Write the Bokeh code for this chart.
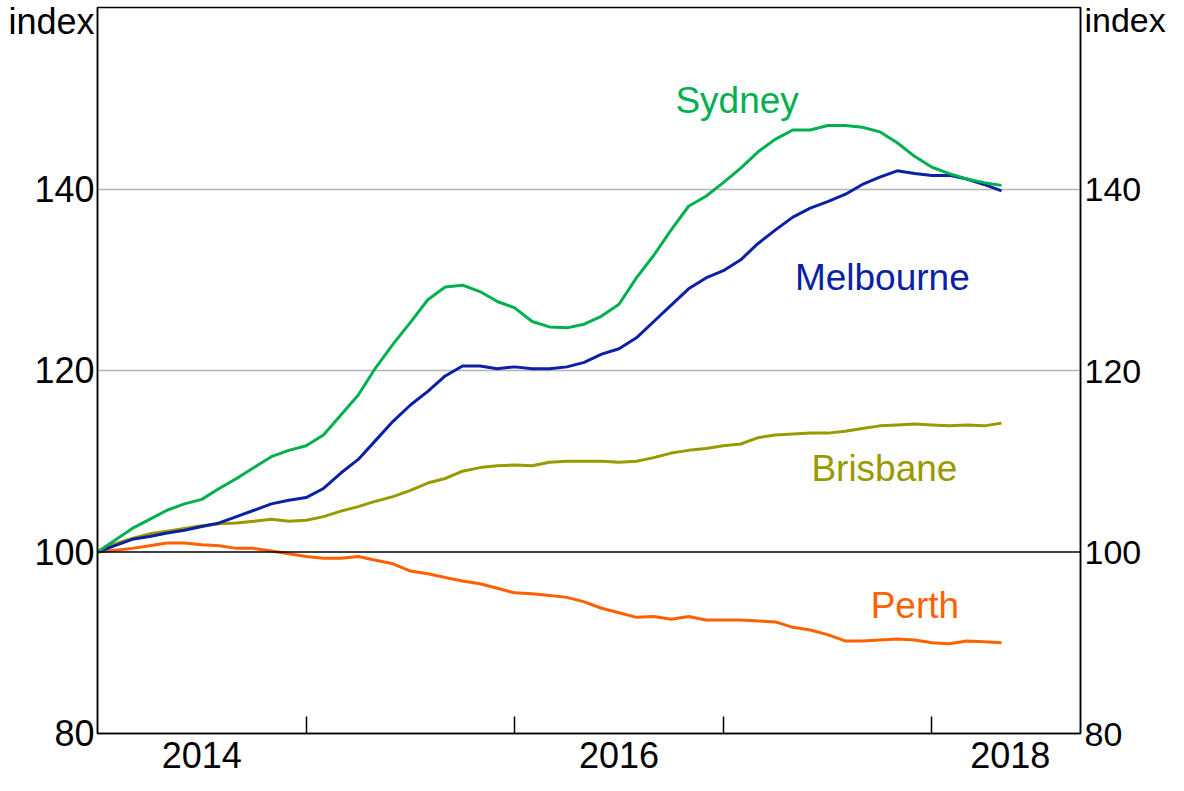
from bokeh.plotting import figure
from bokeh.models import (Range1d, LinearAxis, FixedTicker, CustomJSTickFormatter,
                          Span, ColumnDataSource)
from bokeh.core.properties import value
from bokeh.embed import file_html
from bokeh.resources import INLINE

# Monthly index, first month = 100 (Jan 2014 .. May 2018)
months = list(range(53))
sydney = [100.0, 101.3, 102.6, 103.6, 104.6, 105.3, 105.8, 107.0, 108.1, 109.3,
          110.5, 111.2, 111.7, 112.9, 115.1, 117.3, 120.3, 122.9, 125.3, 127.8,
          129.2, 129.4, 128.7, 127.6, 126.9, 125.4, 124.8, 124.7, 125.1, 126.0,
          127.3, 130.2, 132.7, 135.5, 138.1, 139.2, 140.7, 142.3, 144.1, 145.5,
          146.5, 146.5, 147.0, 147.0, 146.8, 146.3, 145.1, 143.6, 142.4, 141.7,
          141.1, 140.7, 140.4]
melbourne = [100.0, 100.7, 101.4, 101.7, 102.1, 102.4, 102.8, 103.2, 103.9, 104.6,
             105.3, 105.7, 106.0, 107.0, 108.7, 110.2, 112.3, 114.4, 116.2, 117.7,
             119.4, 120.5, 120.5, 120.2, 120.4, 120.2, 120.2, 120.4, 120.9, 121.8,
             122.4, 123.6, 125.4, 127.2, 129.0, 130.2, 131.0, 132.2, 134.0, 135.5,
             136.9, 137.9, 138.6, 139.4, 140.5, 141.3, 142.0, 141.7, 141.5, 141.5,
             141.1, 140.5, 139.8]
brisbane = [100.0, 100.9, 101.5, 102.0, 102.3, 102.6, 102.9, 103.1, 103.2, 103.4,
            103.6, 103.4, 103.5, 103.9, 104.5, 105.0, 105.6, 106.1, 106.8, 107.6,
            108.1, 108.9, 109.3, 109.5, 109.6, 109.5, 109.9, 110.0, 110.0, 110.0,
            109.9, 110.0, 110.4, 110.9, 111.2, 111.4, 111.7, 111.9, 112.6, 112.9,
            113.0, 113.1, 113.1, 113.3, 113.6, 113.9, 114.0, 114.1, 114.0, 113.9,
            114.0, 113.9, 114.2]
perth = [100.0, 100.2, 100.4, 100.7, 101.0, 101.0, 100.8, 100.7, 100.4, 100.4,
         100.1, 99.8, 99.5, 99.3, 99.3, 99.5, 99.1, 98.7, 97.9, 97.6,
         97.2, 96.8, 96.5, 96.0, 95.5, 95.4, 95.2, 95.0, 94.5, 93.8,
         93.3, 92.8, 92.9, 92.6, 92.9, 92.5, 92.5, 92.5, 92.4, 92.3,
         91.7, 91.4, 90.9, 90.2, 90.2, 90.3, 90.4, 90.3, 90.0, 89.9,
         90.2, 90.1, 90.0]

year_labels = ["2014", "2016", "2018"]
y_ticks = [80, 100, 120, 140]
unit_label = "index"

x = [2014 + m / 12 for m in months]

FONT = "Liberation Sans"
TICK_SIZE = "36px"
RIGHT_SIZE = "34px"
LABEL_SIZE = "37px"
UNIT_POS = 159.0  # position of the "index" unit label on the value axes

p = figure(width=1168, height=775, output_backend="svg", toolbar_location=None,
           x_range=Range1d(2014, 2018.712), y_range=Range1d(80, 160),
           min_border_left=97, min_border_right=80, min_border_top=7,
           min_border_bottom=42, background_fill_color="white",
           border_fill_color="white")
p.outline_line_color = "black"
p.outline_line_width = 1.5

# x axis: year boundary ticks, labels centred in each labelled year
p.xaxis.ticker = FixedTicker(ticks=[2014.5, 2016.5, 2018.375],
                             minor_ticks=[2015, 2016, 2017, 2018])
p.xaxis.formatter = CustomJSTickFormatter(code="return Math.floor(tick).toString()")
p.xaxis.major_tick_line_color = None
p.xaxis.minor_tick_in = 17
p.xaxis.minor_tick_out = 0
p.xaxis.minor_tick_line_color = "black"
p.xaxis.minor_tick_line_width = 1.5
p.xaxis.axis_line_width = 1.5
p.xaxis.major_label_text_font = FONT
p.xaxis.major_label_text_font_size = TICK_SIZE
p.xaxis.major_label_text_color = "black"
p.xaxis.major_label_standoff = 2

fmt_code = "return tick > 150 ? '%s' : tick.toFixed(0)" % unit_label

p.yaxis.ticker = FixedTicker(ticks=y_ticks + [UNIT_POS], minor_ticks=[])
p.yaxis.formatter = CustomJSTickFormatter(code=fmt_code)
p.yaxis.major_tick_line_color = None
p.yaxis.minor_tick_line_color = None
p.yaxis.axis_line_width = 1.5
p.yaxis.major_label_text_font = FONT
p.yaxis.major_label_text_font_size = TICK_SIZE
p.yaxis.major_label_text_color = "black"
p.yaxis.major_label_standoff = -3

ry = LinearAxis(ticker=FixedTicker(ticks=y_ticks + [UNIT_POS], minor_ticks=[]),
                formatter=CustomJSTickFormatter(code=fmt_code))
ry.major_tick_line_color = None
ry.minor_tick_line_color = None
ry.axis_line_width = 1.5
ry.major_label_text_font = FONT
ry.major_label_text_font_size = RIGHT_SIZE
ry.major_label_text_color = "black"
ry.major_label_standoff = -2
p.add_layout(ry, "right")

p.xgrid.grid_line_color = None
p.ygrid.ticker = FixedTicker(ticks=[120, 140])
p.ygrid.grid_line_color = "#b4b4b4"
p.ygrid.grid_line_width = 1.5

p.add_layout(Span(location=100, dimension="width", line_color="black", line_width=1.5))

colors = {"Sydney": "#00b04f", "Melbourne": "#0a21a5", "Brisbane": "#999900", "Perth": "#ff6100"}
series = {"Sydney": sydney, "Melbourne": melbourne, "Brisbane": brisbane, "Perth": perth}
for name in ["Perth", "Brisbane", "Melbourne", "Sydney"]:
    p.line(x, series[name], line_color=colors[name], line_width=3)

# series labels
lab_x = [2017.066, 2017.762, 2017.772, 2017.918]
lab_y = [149.8, 130.3, 109.2, 94.1]
lab_t = ["Sydney", "Melbourne", "Brisbane", "Perth"]
src = ColumnDataSource(dict(x=lab_x, y=lab_y, t=lab_t, c=[colors[n] for n in lab_t]))
p.text(x="x", y="y", text="t", text_color="c", source=src,
       text_font=value(FONT), text_font_size=LABEL_SIZE,
       text_align="center", text_baseline="alphabetic")

open("out.html", "w").write(file_html(p, INLINE))
